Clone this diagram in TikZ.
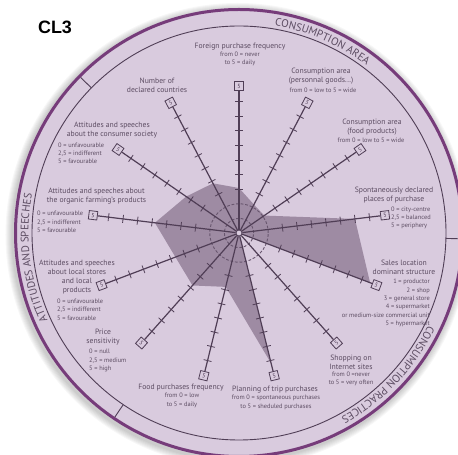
\documentclass[tikz,border=0pt]{standalone}
\usepackage{fontspec}
\setmainfont{PT Sans}
\newfontfamily\headfont{Liberation Sans}
\usetikzlibrary{decorations.text}

\definecolor{discfill}{RGB}{217,203,222}
\definecolor{polyc}{RGB}{158,139,163}
\definecolor{ringc}{RGB}{118,60,122}
\definecolor{linec}{RGB}{80,62,86}
\definecolor{dashc}{RGB}{104,86,110}
\definecolor{txtc}{RGB}{92,76,98}

\begin{document}
\begin{tikzpicture}[x=1bp,y=1bp,
  axisline/.style={linec, line width=1.2bp},
  tickmark/.style={linec, line width=0.8bp},
  valbox/.style={draw=linec, line width=0.8bp, fill=discfill, minimum size=8.5bp,
    inner sep=0pt, text=linec, font=\fontsize{6}{6}\selectfont},
  hub/.style={circle, draw=linec, line width=0.8bp, fill=discfill, minimum size=6bp, inner sep=0pt},
  ttl/.style={font=\fontsize{7.7}{9}\selectfont, text=txtc, align=center, inner sep=0pt},
  dtl/.style={font=\fontsize{6.4}{8.4}\selectfont, text=txtc, align=center, inner sep=0pt},
  bandtext/.style={decorate, decoration={text along path, text align=center,
    text color=txtc, text={|\fontsize{11}{11}\selectfont|#1}}}
]
\useasboundingbox (-239,-222) rectangle (219,233);

% soft shadow under the disc
\foreach \i in {1,...,7}
  \fill[black, opacity=0.03] (-1.5,-2) circle ({225+\i});

% disc, outer ring and inner ring
\fill[discfill] (0,0) circle (225);
\draw[ringc, line width=3bp] (0,0) circle (223.5);
\draw[linec, line width=0.9bp] (0,0) circle (207);

% section separators in the ring
\coordinate (s1a) at (135.5:207); \coordinate (s1b) at (135.5:222);
\coordinate (s2a) at (236:207);   \coordinate (s2b) at (236:222);
\coordinate (s3a) at (-1.5:207);  \coordinate (s3b) at (-1.5:222);
\draw[linec, line width=0.9bp] (s1a) -- (s1b) (s2a) -- (s2b) (s3a) -- (s3b);

% ring titles
\path[bandtext={CONSUMPTION AREA}] (100:210.5) arc[start angle=100, end angle=33, radius=210.5];
\path[bandtext={CONSUMPTION PRACTICES}] (0:210.5) arc[start angle=0, end angle=-87, radius=210.5];
\path[bandtext={ATTITUDES AND SPEECHES}] (228:210.5) arc[start angle=228, end angle=146, radius=210.5];

% profile polygon
\fill[polyc] (90:45) -- (62.3077:32.1) -- (34.6154:30.7) -- (6.9231:116.8)
  -- (-20.7692:140.2) -- (0,0) -- (-76.1538:134.3) -- (-103.8462:55.5)
  -- (-131.5385:70.1) -- (-159.2308:68.0) -- (173.0769:84.7)
  -- (145.3846:64.2) -- (117.6923:56.1) -- cycle;

% inner reference circles
\draw[dashc, line width=0.9bp, dash pattern=on 2.8bp off 1.8bp] (0,0) circle (14.6) (0,0) circle (29.2);

% hub
\node[hub] (o) at (0,0) {};

% axes, graduations and end boxes
\foreach \i in {0,...,12} {
  \pgfmathsetmacro\a{90-\i*360/13}
  \pgfmathsetmacro\rot{mod(\a+405,90)-45}
  \foreach \k in {3,...,9}
    \draw[tickmark] (\a:{\k*14.6}) ++(\a+90:4) -- ++(\a-90:8);
  \node[valbox, rotate=\rot] (b\i) at (\a:147) {5};
  \draw[axisline] (o) -- (b\i);
}

% axis labels
\node[ttl] (t0) at (1,186) {Foreign purchase frequency};
\node[dtl] (d0) at (1,174) {from 0 = never\\to 5 = daily};

\node[ttl] (t1) at (82,156.5) {Consumption area\\(personnal goods...)};
\node[dtl] (d1) at (84,143) {from 0 = low to 5 = wide};

\node[ttl] (t2) at (133,106) {Consumption area\\(food products)};
\node[dtl] (d2) at (132,93) {from 0 = low to 5 = wide};

\node[ttl] (t3) at (155,37.5) {Spontaneously declared\\places of purchase};
\node[dtl, anchor=west, align=left] (d3) at (152,15) {0 = city-centre\\2,5 = balanced\\5 = periphery};

\node[ttl] (t4) at (165,-34) {Sales location\\dominant structure};
\node[dtl, anchor=east, align=right] (d4) at (191,-70) {1 = productor\\2 = shop\\3 = general store\\4 = supermarket\\or medium-size commercial unit\\5 = hypermarket};

\node[ttl] (t5) at (112,-129.5) {Shopping on\\Internet sites};
\node[dtl] (d5) at (112,-146) {from 0 =never\\to 5 = very often};

\node[ttl] (t6) at (36,-157) {Planning of trip purchases};
\node[dtl] (d6) at (37,-169.5) {from 0 = spontaneous purchases\\to 5 = sheduled purchases};

\node[ttl] (t7) at (-58,-155) {Food purchases frequency};
\node[dtl] (d7) at (-57,-167.5) {from 0 = low\\to 5 = daily};

\node[ttl] (t8) at (-136,-104.5) {Price\\sensitivity};
\node[dtl, anchor=west, align=left] (d8) at (-150,-127.7) {0 = null\\2,5 = medium\\5 = high};

\node[ttl] (t9) at (-162,-44) {Attitudes and speeches\\about local stores\\and local\\products};
\node[dtl, anchor=west, align=left] (d9) at (-182,-76.7) {0 = unfavourable\\2,5 = indifferent\\5 = favourable};

\node[ttl] (t10) at (-142.5,36.5) {Attitudes and speeches about\\the organic farming's products};
\node[dtl, anchor=west, align=left] (d10) at (-202,11) {0 = unfavourable\\2,5 = indifferent\\5 = favourable};

\node[ttl] (t11) at (-127,102.5) {Attitudes and speeches\\about the consumer society};
\node[dtl, anchor=west, align=left] (d11) at (-181,79.7) {0 = unfavourable\\2,5 = indifferent\\5 = favourable};

\node[ttl] (t12) at (-82,148) {Number of\\declared countries};

% class label
\node[font=\headfont\bfseries\fontsize{18}{18}\selectfont, inner sep=0pt] (cl) at (-184,205.5) {CL3};
\end{tikzpicture}
\end{document}
